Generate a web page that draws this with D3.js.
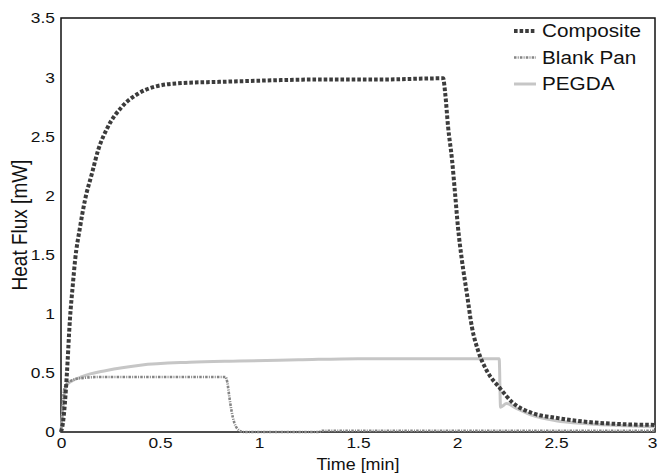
<!DOCTYPE html>
<html>
<head>
<meta charset="utf-8">
<script src="https://cdn.jsdelivr.net/npm/d3@7"></script>
<style>
  body { margin: 0; background: #fff; }
  text { font-family: "Liberation Sans", Arial, sans-serif; fill: #111; }
</style>
</head>
<body>
<div id="chart"></div>
<script>
// time [min] and heat flux [mW]
let composite_t = [0, 0.01, 0.02, 0.03, 0.045, 0.06, 0.071, 0.096, 0.121, 0.157, 0.187, 0.237, 0.308, 0.389, 0.475, 0.61, 0.8, 1.0, 1.3, 1.6, 1.93,
  1.94, 1.955, 1.975, 1.99, 2.005, 2.025, 2.05, 2.075, 2.106, 2.15, 2.217, 2.28, 2.38, 2.5, 2.66, 2.81, 3.0];
let composite_v = [0, 0.08, 0.25, 0.5, 0.95, 1.25, 1.45, 1.73, 1.96, 2.19, 2.38, 2.58, 2.75, 2.86, 2.92, 2.95, 2.96, 2.97, 2.98, 2.98, 2.99,
  2.87, 2.58, 2.3, 2.02, 1.73, 1.45, 1.17, 0.89, 0.69, 0.52, 0.37, 0.25, 0.16, 0.12, 0.085, 0.068, 0.06];

let blank_t = [0, 0.008, 0.015, 0.03, 0.06, 0.1, 0.2, 0.5, 0.83, 0.84, 0.85, 0.86, 0.875, 0.89, 0.92, 1.3, 1.32, 3.0];
let blank_v = [0, 0.2, 0.35, 0.41, 0.44, 0.455, 0.465, 0.465, 0.465, 0.42, 0.3, 0.19, 0.08, 0.03, 0.0, 0.0, 0.01, 0.01];

let pegda_t = [0, 0.01, 0.02, 0.03, 0.11, 0.23, 0.4, 0.65, 0.9, 1.2, 1.5, 2.213, 2.22, 2.25, 2.3, 2.38, 2.5, 2.66, 2.81, 3.0];
let pegda_v = [0, 0.2, 0.35, 0.4, 0.47, 0.52, 0.565, 0.59, 0.6, 0.61, 0.62, 0.62, 0.21, 0.24, 0.2, 0.14, 0.095, 0.07, 0.055, 0.045];

let x_ticks = [0, 0.5, 1, 1.5, 2, 2.5, 3];
let y_ticks = [0, 0.5, 1, 1.5, 2, 2.5, 3, 3.5];

let series_names = ["Composite", "Blank Pan", "PEGDA"];

let width = 658;
let height = 474;
let margin = { top: 18, right: 3, bottom: 42, left: 61 };
let stretch = 1.12; // text in the figure is a little wider than tall

let x = d3.scaleLinear().domain([0, 3]).range([margin.left, width - margin.right]);
let y = d3.scaleLinear().domain([0, 3.5]).range([height - margin.bottom, margin.top]);

let styles = {
  "Composite": { stroke: "#3c3c3c", width: 4, dash: "3.6,2" },
  "Blank Pan": { stroke: "#858585", width: 2.6, dash: "2.5,1.2,1,1.2" },
  "PEGDA": { stroke: "#c6c6c6", width: 3, dash: null }
};

let svg = d3.select("#chart").append("svg")
  .attr("width", width)
  .attr("height", height);

let line = d3.line()
  .x(d => x(d[0]))
  .y(d => y(d[1]))
  .curve(d3.curveMonotoneX);

function pairs(ts, vs) {
  return ts.map((t, i) => [t, vs[i]]);
}

let series = [
  { name: "PEGDA", pts: pairs(pegda_t, pegda_v) },
  { name: "Blank Pan", pts: pairs(blank_t, blank_v) },
  { name: "Composite", pts: pairs(composite_t, composite_v) }
];

// frame
svg.append("rect")
  .attr("x", x(0))
  .attr("y", y(3.5))
  .attr("width", x(3) - x(0))
  .attr("height", y(0) - y(3.5))
  .attr("fill", "none")
  .attr("stroke", "#111")
  .attr("stroke-width", 1.5);

series.forEach(s => {
  let st = styles[s.name];
  svg.append("path")
    .datum(s.pts)
    .attr("d", line)
    .attr("fill", "none")
    .attr("stroke", st.stroke)
    .attr("stroke-width", st.width)
    .attr("stroke-dasharray", st.dash)
    .attr("stroke-linejoin", "round");
});

// x axis
svg.append("g")
  .attr("transform", "translate(0," + y(0) + ")")
  .call(d3.axisBottom(x).tickValues(x_ticks).tickFormat(d3.format("")).tickSize(0).tickPadding(5))
  .call(g => g.select(".domain").remove())
  .call(g => g.selectAll(".tick text")
    .attr("font-size", 15.5)
    .attr("fill", "#111")
    .attr("transform", "scale(" + stretch + ",1)")
    .style("font-family", "'Liberation Sans', Arial, sans-serif"))
  .call(g => g.selectAll(".tick text").filter(d => d === 3)
    .attr("text-anchor", "end")
    .attr("x", 2 / stretch));

// y axis
svg.append("g")
  .attr("transform", "translate(" + x(0) + ",0)")
  .call(d3.axisLeft(y).tickValues(y_ticks).tickFormat(d3.format("")).tickSize(0).tickPadding(5.4))
  .call(g => g.select(".domain").remove())
  .call(g => g.selectAll(".tick text")
    .attr("font-size", 15.5)
    .attr("fill", "#111")
    .attr("transform", "scale(" + stretch + ",1)")
    .style("font-family", "'Liberation Sans', Arial, sans-serif"));

svg.append("text")
  .attr("transform", "translate(" + (x(0) + x(3)) / 2 + ",470) scale(" + stretch + ",1)")
  .attr("text-anchor", "middle")
  .attr("font-size", 16)
  .text("Time [min]");

svg.append("text")
  .attr("transform", "translate(27," + y(1.75) + ") scale(" + stretch + ",1) rotate(-90)")
  .attr("text-anchor", "middle")
  .attr("font-size", 19)
  .text("Heat Flux [mW]");

// legend
let legend = svg.append("g");
series_names.forEach((name, i) => {
  let st = styles[name];
  let ly = 31 + i * 26.5;
  legend.append("line")
    .attr("x1", 514).attr("x2", 536)
    .attr("y1", ly).attr("y2", ly)
    .attr("stroke", st.stroke)
    .attr("stroke-width", st.width)
    .attr("stroke-dasharray", st.dash);
  legend.append("text")
    .attr("transform", "translate(542," + ly + ") scale(" + stretch + ",1)")
    .attr("dy", "0.35em")
    .attr("font-size", 18.5)
    .text(name);
});
</script>
</body>
</html>
